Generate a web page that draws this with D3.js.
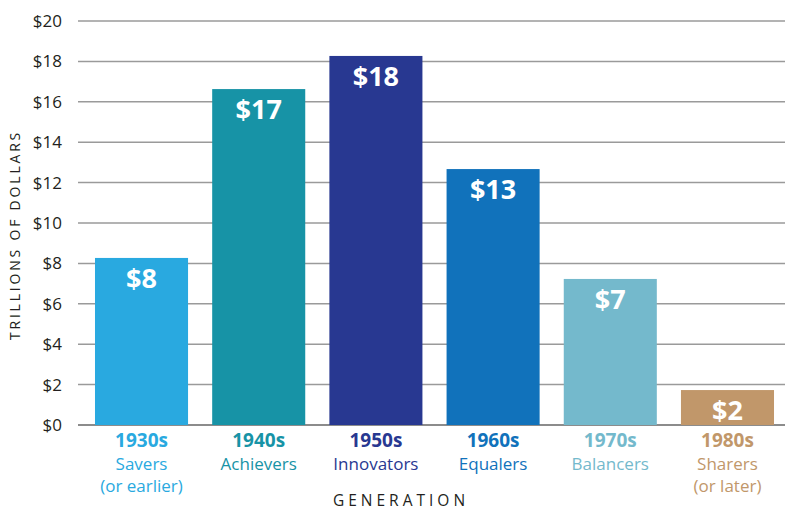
<!DOCTYPE html>
<html>
<head>
<meta charset="utf-8">
<script src="https://cdn.jsdelivr.net/npm/d3@7"></script>
<style>
  body { margin: 0; background: #fff; }
  text { font-family: "Open Sans", "Noto Sans", sans-serif; }
</style>
</head>
<body>
<svg id="chart" width="785" height="510"></svg>
<script>
var decades = ["1930s", "1940s", "1950s", "1960s", "1970s", "1980s"];
var names = [["Savers", "(or earlier)"], ["Achievers"], ["Innovators"], ["Equalers"], ["Balancers"], ["Sharers", "(or later)"]];
var values = [8.27, 16.63, 18.27, 12.67, 7.23, 1.73];
var labels = ["$8", "$17", "$18", "$13", "$7", "$2"];
var colors = ["#29a9e0", "#1793a6", "#283891", "#1172bb", "#74b9cc", "#c1976a"];
var yTicks = [0, 2, 4, 6, 8, 10, 12, 14, 16, 18, 20];

var svg = d3.select("#chart");

var x = d3.scaleBand()
    .domain(decades)
    .range([78, 791])
    .paddingInner(0.206)
    .paddingOuter(0.145);

var y = d3.scaleLinear()
    .domain([0, 20])
    .range([425, 21]);

// gridlines
svg.selectAll(".grid")
    .data(yTicks)
  .enter().append("line")
    .attr("class", "grid")
    .attr("x1", 78)
    .attr("x2", 785)
    .attr("y1", function(d) { return y(d); })
    .attr("y2", function(d) { return y(d); })
    .style("stroke", function(d) { return d === 0 ? "#666" : "#9a9a9a"; })
    .style("stroke-width", 1.5);

// tick labels
svg.selectAll(".ytick")
    .data(yTicks)
  .enter().append("text")
    .attr("class", "ytick")
    .attr("x", 62)
    .attr("y", function(d) { return y(d) + 6; })
    .attr("text-anchor", "end")
    .style("font-size", "17px")
    .style("fill", "#231f20")
    .text(function(d) { return "$" + d; });

var bar = svg.selectAll(".bar")
    .data(decades)
  .enter().append("g")
    .attr("class", "bar");

bar.append("rect")
    .attr("x", function(d) { return x(d); })
    .attr("width", x.bandwidth())
    .attr("y", function(d, i) { return y(values[i]); })
    .attr("height", function(d, i) { return y(0) - y(values[i]); })
    .style("fill", function(d, i) { return colors[i]; });

bar.append("text")
    .attr("x", function(d) { return x(d) + x.bandwidth() / 2; })
    .attr("y", function(d, i) { return y(values[i]) + 30; })
    .attr("text-anchor", "middle")
    .style("font-size", "27px")
    .style("font-weight", "bold")
    .style("fill", "#fff")
    .text(function(d, i) { return labels[i]; });

// category labels
bar.append("text")
    .attr("x", function(d) { return x(d) + x.bandwidth() / 2; })
    .attr("y", 447)
    .attr("text-anchor", "middle")
    .style("font-size", "19px")
    .style("font-weight", "bold")
    .style("fill", function(d, i) { return colors[i]; })
    .text(function(d) { return d; });

bar.each(function(d, i) {
  var g = d3.select(this);
  names[i].forEach(function(line, j) {
    g.append("text")
      .attr("x", x(d) + x.bandwidth() / 2)
      .attr("y", 470 + j * 22)
      .attr("text-anchor", "middle")
      .style("font-size", "17px")
      .style("fill", colors[i])
      .text(line);
  });
});

// axis titles
svg.append("text")
    .attr("transform", "translate(20," + 235 + ") rotate(-90)")
    .attr("text-anchor", "middle")
    .style("font-size", "14px")
    .style("letter-spacing", "2.8px")
    .style("fill", "#231f20")
    .text("TRILLIONS OF DOLLARS");

svg.append("text")
    .attr("x", 401)
    .attr("y", 506)
    .attr("text-anchor", "middle")
    .style("font-size", "15.5px")
    .style("letter-spacing", "4px")
    .style("fill", "#231f20")
    .text("GENERATION");
</script>
</body>
</html>
